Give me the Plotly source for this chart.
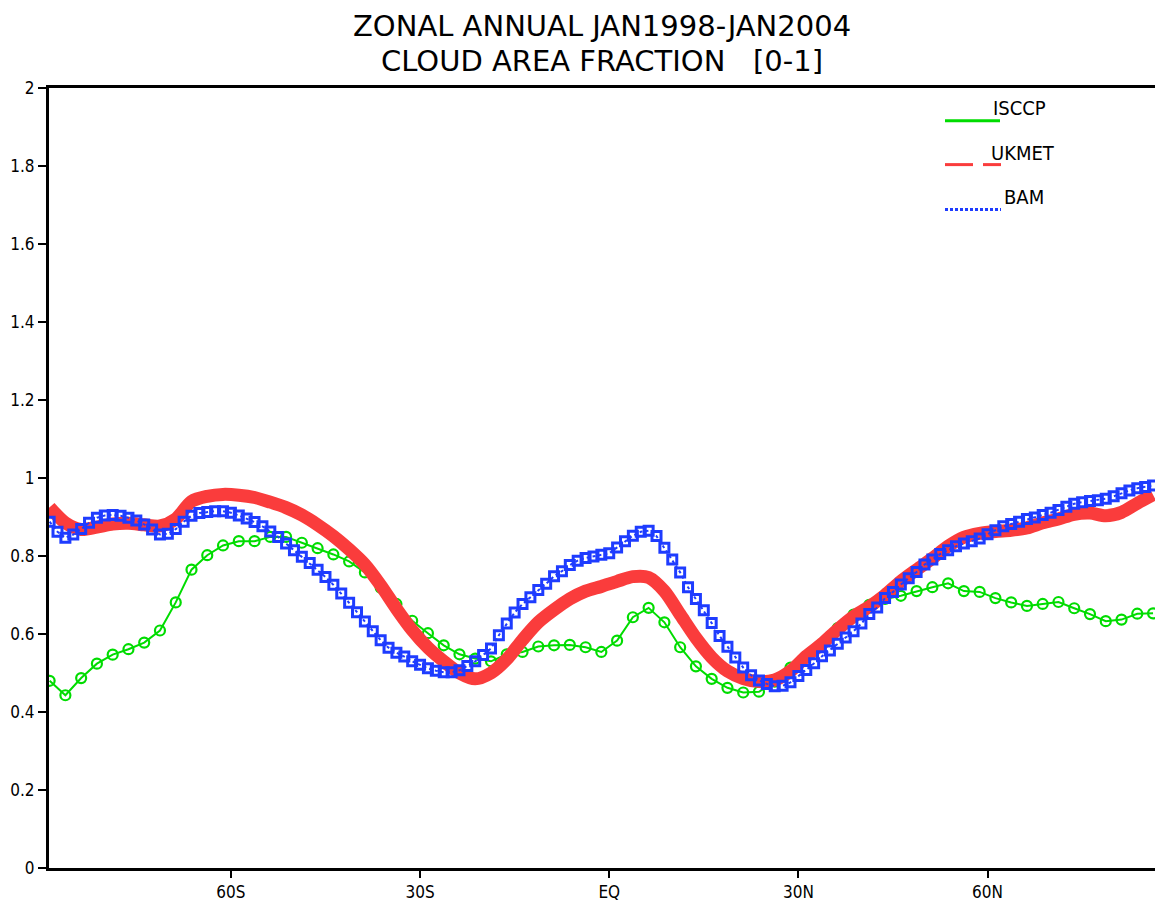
import plotly.graph_objects as go

# ---------------- data ----------------
# ISCCP: 2.5 degree grid starting at 88.75S
isccp_lat = [-88.75 + 2.5 * i for i in range(71)]
isccp_val = [0.480, 0.443, 0.487, 0.524, 0.547, 0.561, 0.578, 0.609, 0.681, 0.765,
             0.802, 0.827, 0.838, 0.838, 0.849, 0.849, 0.834, 0.820, 0.804, 0.786,
             0.758, 0.719, 0.677, 0.634, 0.602, 0.571, 0.548, 0.537, 0.530, 0.548,
             0.554, 0.568, 0.571, 0.572, 0.566, 0.554, 0.583, 0.643, 0.667, 0.630,
             0.566, 0.517, 0.485, 0.462, 0.450, 0.452, 0.478, 0.514, 0.541, 0.575,
             0.615, 0.650, 0.675, 0.690, 0.698, 0.710, 0.720, 0.730, 0.710, 0.708,
             0.692, 0.681, 0.672, 0.677, 0.682, 0.666, 0.651, 0.633, 0.637, 0.652,
             0.653]

# UKMET: 2.5 degree grid starting at 88.75S
ukmet_lat = [-88.75 + 2.5 * i for i in range(71)]
ukmet_val = [0.925, 0.885, 0.868, 0.874, 0.882, 0.884, 0.880, 0.877, 0.895, 0.940,
             0.953, 0.958, 0.956, 0.950, 0.938, 0.924, 0.905, 0.880, 0.851, 0.817,
             0.778, 0.725, 0.665, 0.610, 0.565, 0.530, 0.500, 0.485, 0.500, 0.535,
             0.585, 0.630, 0.662, 0.690, 0.710, 0.722, 0.735, 0.747, 0.745, 0.710,
             0.650, 0.590, 0.540, 0.505, 0.486, 0.478, 0.482, 0.505, 0.543, 0.575,
             0.612, 0.645, 0.670, 0.700, 0.735, 0.765, 0.794, 0.825, 0.848, 0.858,
             0.863, 0.866, 0.872, 0.885, 0.895, 0.907, 0.910, 0.903, 0.912, 0.935,
             0.957]

# BAM: 1.25 degree grid starting at 88.75S
bam_lat = [-88.75 + 1.25 * j for j in range(141)]
bam_val = [0.888, 0.862, 0.847, 0.855, 0.869, 0.885, 0.898, 0.904, 0.905, 0.903,
           0.898, 0.891, 0.881, 0.868, 0.855, 0.857, 0.869, 0.888, 0.903, 0.910,
           0.913, 0.915, 0.915, 0.911, 0.904, 0.896, 0.887, 0.876, 0.863, 0.849,
           0.832, 0.815, 0.798, 0.782, 0.765, 0.746, 0.726, 0.704, 0.680, 0.656,
           0.632, 0.607, 0.584, 0.565, 0.552, 0.542, 0.530, 0.521, 0.512, 0.506,
           0.502, 0.502, 0.507, 0.518, 0.530, 0.546, 0.563, 0.597, 0.627, 0.655,
           0.677, 0.694, 0.713, 0.729, 0.748, 0.761, 0.777, 0.788, 0.795, 0.799,
           0.803, 0.807, 0.822, 0.838, 0.852, 0.862, 0.865, 0.851, 0.821, 0.791,
           0.758, 0.720, 0.690, 0.661, 0.628, 0.595, 0.567, 0.540, 0.514, 0.494,
           0.481, 0.472, 0.466, 0.467, 0.476, 0.492, 0.508, 0.525, 0.543, 0.558,
           0.575, 0.591, 0.607, 0.627, 0.651, 0.668, 0.692, 0.708, 0.727, 0.743,
           0.759, 0.778, 0.791, 0.805, 0.815, 0.825, 0.832, 0.838, 0.845, 0.856,
           0.866, 0.876, 0.882, 0.888, 0.895, 0.899, 0.905, 0.911, 0.918, 0.926,
           0.934, 0.938, 0.941, 0.943, 0.947, 0.953, 0.961, 0.968, 0.974, 0.977,
           0.981]

x_tickvals = [-60, -30, 0, 30, 60]
x_ticktext = ["60S", "30S", "EQ", "30N", "60N"]
y_tickvals = [0, 0.2, 0.4, 0.6, 0.8, 1, 1.2, 1.4, 1.6, 1.8, 2]
y_ticktext = ["0", "0.2", "0.4", "0.6", "0.8", "1", "1.2", "1.4", "1.6", "1.8", "2"]

title1 = "ZONAL ANNUAL JAN1998-JAN2004"
title2 = "CLOUD AREA FRACTION\u00a0\u00a0\u00a0[0-1]"
legend_names = ["ISCCP", "UKMET", "BAM"]

GREEN = "rgb(0,220,0)"
RED = "rgb(250,60,60)"
BLUE = "rgb(30,60,255)"
NARROW = "Liberation Sans Narrow, DejaVu Sans Condensed, Liberation Sans, sans-serif"

# ---------------- figure ----------------
W, H = 1155, 902
L, R, T, B = 49, 0, 88, 30
PW, PH = W - L - R, H - T - B

fig = go.Figure()
fig.add_trace(go.Scatter(x=isccp_lat, y=isccp_val, mode="lines+markers",
                         line=dict(color=GREEN, width=2),
                         marker=dict(symbol="circle-open", size=10, color=GREEN,
                                     line=dict(width=2.2, color=GREEN)),
                         name="ISCCP"))
fig.add_trace(go.Scatter(x=ukmet_lat, y=ukmet_val, mode="lines",
                         line=dict(color=RED, width=13, shape="spline", smoothing=0.8),
                         name="UKMET"))
fig.add_trace(go.Scatter(x=bam_lat, y=bam_val, mode="lines+markers",
                         line=dict(color=BLUE, width=2, dash="dot"),
                         marker=dict(symbol="square-open", size=9, color=BLUE,
                                     line=dict(width=3, color=BLUE)),
                         name="BAM"))


def px(xp):
    return (xp - L) / PW


def py(yp):
    return (H - B - yp) / PH


shapes = [
    dict(type="line", xref="paper", yref="paper", x0=px(945), x1=px(1000),
         y0=py(121), y1=py(121), line=dict(color=GREEN, width=3)),
    dict(type="line", xref="paper", yref="paper", x0=px(945), x1=px(973),
         y0=py(165), y1=py(165), line=dict(color=RED, width=3)),
    dict(type="line", xref="paper", yref="paper", x0=px(983), x1=px(1001),
         y0=py(165), y1=py(165), line=dict(color=RED, width=3)),
    dict(type="line", xref="paper", yref="paper", x0=px(945), x1=px(1001),
         y0=py(210), y1=py(210), line=dict(color=BLUE, width=3, dash="3px,2px")),
]

annotations = [
    dict(text=title1, xref="paper", yref="paper", x=0.5, y=py(25.5),
         xanchor="center", yanchor="middle", showarrow=False,
         font=dict(family="DejaVu Sans, sans-serif", size=29, color="black")),
    dict(text=title2, xref="paper", yref="paper", x=0.5, y=py(60.5),
         xanchor="center", yanchor="middle", showarrow=False,
         font=dict(family="DejaVu Sans, sans-serif", size=29, color="black")),
]
leg_pos = [(991, 108), (989, 153), (1002, 198)]
for name, (lx, ly) in zip(legend_names, leg_pos):
    annotations.append(dict(text=name, xref="paper", yref="paper", x=px(lx), y=py(ly),
                            xanchor="left", yanchor="middle", showarrow=False,
                            font=dict(family=NARROW, size=20, color="black")))

fig.update_layout(
    width=W, height=H,
    margin=dict(l=L, r=R, t=T, b=B, pad=0),
    paper_bgcolor="white", plot_bgcolor="white",
    showlegend=False,
    shapes=shapes, annotations=annotations,
    xaxis=dict(range=[-88.85, 86.56], showgrid=False, zeroline=False,
               showline=True, linewidth=3, linecolor="black", mirror=True,
               tickvals=x_tickvals, ticktext=x_ticktext,
               ticks="outside", ticklen=7, tickwidth=1.5, tickcolor="black",
               tickfont=dict(family=NARROW, size=17, color="black")),
    yaxis=dict(range=[0, 2], showgrid=False, zeroline=False,
               showline=True, linewidth=3, linecolor="black",
               tickvals=y_tickvals, ticktext=y_ticktext,
               ticks="outside", ticklen=8, tickwidth=1.5, tickcolor="black",
               tickfont=dict(family=NARROW, size=17, color="black")),
)

fig.write_html("out.html")
